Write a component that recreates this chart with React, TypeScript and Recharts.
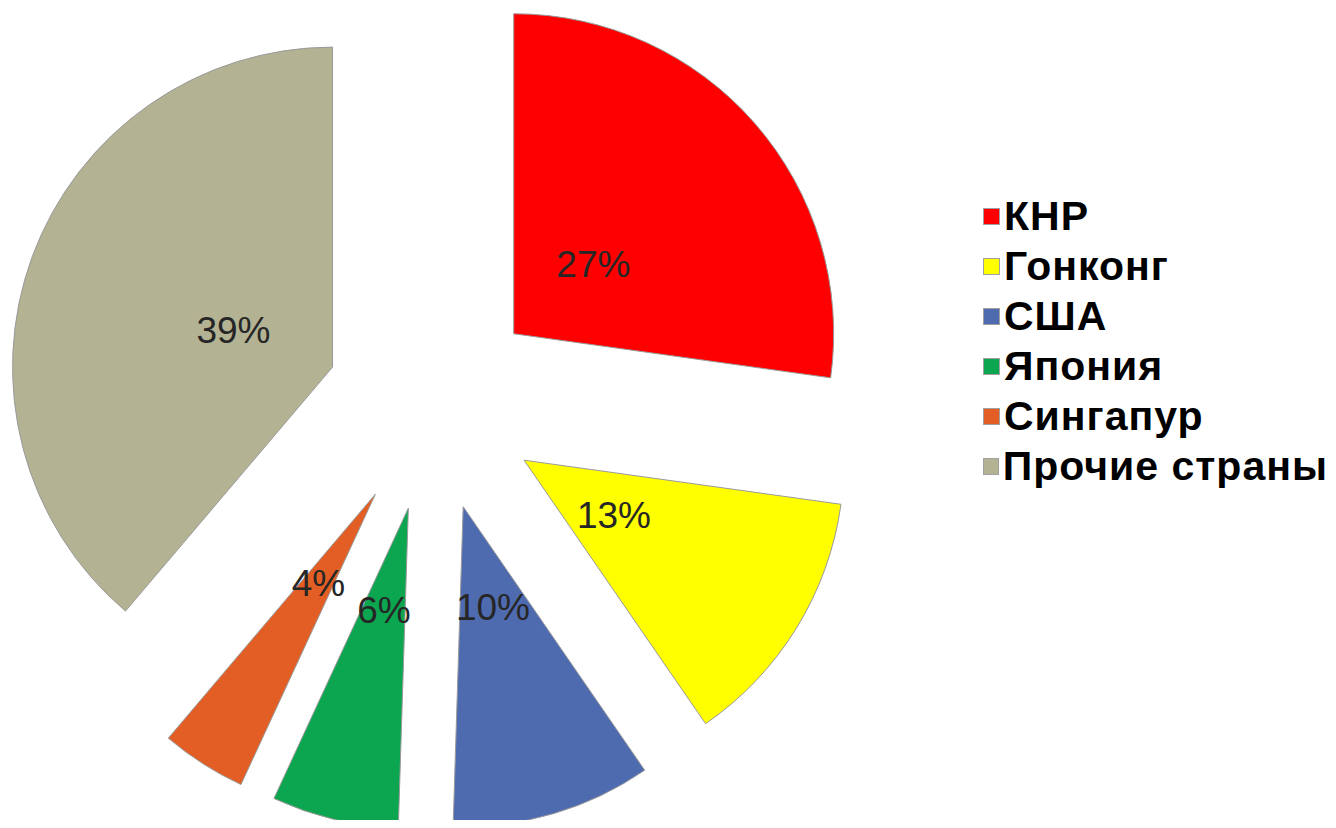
import { Legend, Pie, PieChart, Sector } from "recharts"

const countries = ["КНР", "Гонконг", "США", "Япония", "Сингапур", "Прочие страны"]
const shares = [27.2, 13.2, 10.1, 6.4, 4.3, 38.8]
const colors = ["#FF0000", "#FFFF00", "#4F6BB0", "#0CA550", "#E35E24", "#B3B394"]

const data = countries.map((name, i) => ({ name, value: shares[i] }))

const RAD = Math.PI / 180
// how far every slice is pulled out of the centre
const EXPLODE = 107

// draws the pulled-out slice together with its percent label
function ExplodedSlice(props: any) {
  const { cx, cy, midAngle, outerRadius, startAngle, endAngle, index, percent } = props
  const ux = Math.cos(-midAngle * RAD)
  const uy = Math.sin(-midAngle * RAD)
  const sx = cx + EXPLODE * ux
  const sy = cy + EXPLODE * uy
  const lr = outerRadius * 0.33
  return (
    <g>
      <Sector
        cx={sx}
        cy={sy}
        innerRadius={0}
        outerRadius={outerRadius}
        startAngle={startAngle}
        endAngle={endAngle}
        fill={colors[index]}
        stroke="#9a9a9a"
        strokeWidth={1}
      />
      <text
        x={sx + lr * ux}
        y={sy + lr * uy}
        textAnchor="middle"
        dominantBaseline="central"
        fontFamily="Arial, 'Liberation Sans', sans-serif"
        fontSize={37}
        fill="#262626"
      >
        {Math.round(percent * 100)}%
      </text>
    </g>
  )
}

function LegendBox() {
  return (
    <div style={{ fontFamily: "Arial, 'Liberation Sans', sans-serif" }}>
      {countries.map((name, i) => (
        <div key={name} style={{ display: "flex", alignItems: "center", height: 50 }}>
          <span
            style={{
              display: "inline-block",
              width: 17,
              height: 17,
              background: colors[i],
              border: "1px solid #a0a0a0",
              boxSizing: "border-box",
              marginRight: 4,
            }}
          />
          <span
            style={{
              fontSize: 41,
              fontWeight: "bold",
              letterSpacing: 1,
              color: "#000",
              lineHeight: "50px",
              whiteSpace: "nowrap",
            }}
          >
            {name}
          </span>
        </div>
      ))}
    </div>
  )
}

export default function App() {
  return (
    <div style={{ width: 1320, height: 812, background: "#fff" }}>
      <PieChart width={1320} height={812} margin={{ top: 0, right: 0, bottom: 0, left: 0 }}>
        <Pie
          data={data}
          dataKey="value"
          nameKey="name"
          cx={425}
          cy={396}
          innerRadius={0}
          outerRadius={320}
          startAngle={90}
          endAngle={-270}
          fill="none"
          stroke="none"
          label={ExplodedSlice}
          labelLine={false}
          isAnimationActive={false}
        />
        <Legend
          layout="vertical"
          align="right"
          verticalAlign="top"
          wrapperStyle={{ left: 975, right: "auto", top: 183, width: 345 }}
          content={() => <LegendBox />}
        />
      </PieChart>
    </div>
  )
}
